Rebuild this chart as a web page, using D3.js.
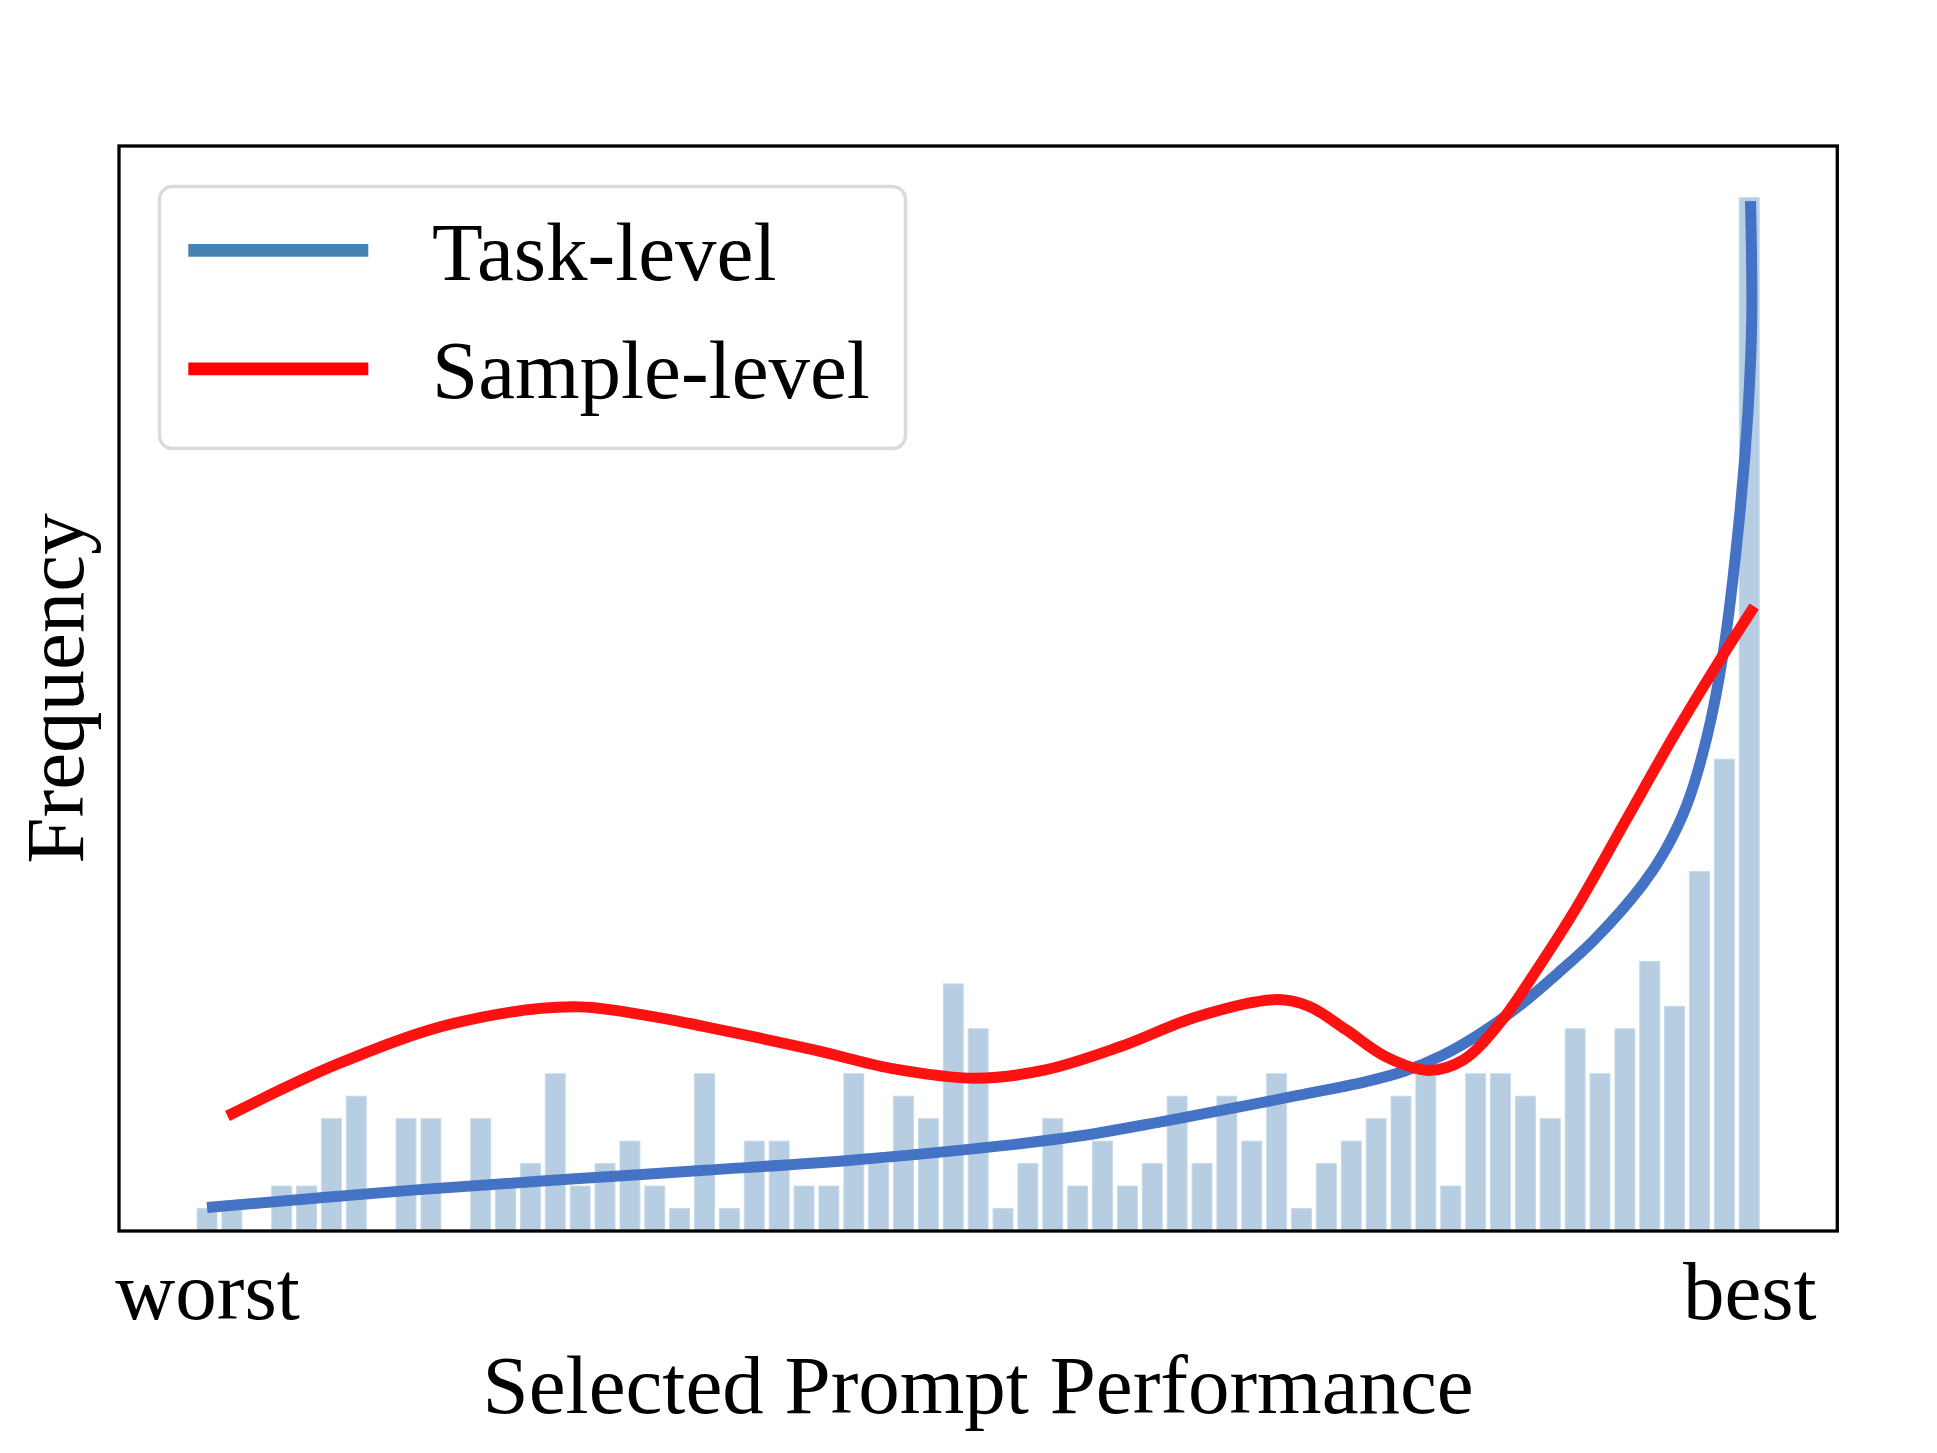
<!DOCTYPE html>
<html>
<head>
<meta charset="utf-8">
<script src="https://cdn.jsdelivr.net/npm/d3@7"></script>
<style>
  html, body { margin: 0; padding: 0; background: #ffffff; }
  svg { display: block; }
  text { font-family: "Liberation Serif", "Times New Roman", serif; fill: #000; }
</style>
</head>
<body>
<div id="chart"></div>
<script>
// ---------------- data ----------------
// histogram bins (ordered from worst to best selected prompt)
const binIndex = d3.range(63);
const binCounts = [1,1,0,2,2,5,6,0,5,5,0,5,2,3,7,2,3,4,2,1,7,
                   1,4,4,2,2,7,3,6,5,11,9,1,3,5,2,4,2,3,6,3,6,4,7,1,
                   3,4,5,6,7,2,7,7,6,5,9,7,9,12,10,16,21,46];

// Task-level density curve (x in bin units, y in count units)
const taskX = [0, 8.4, 14.5, 20, 26, 32, 35.2, 38.3, 41.4, 43.7, 46.6, 48.15, 49.7, 51.2, 52.8, 54.3, 55.8, 57.7, 58.6, 59.5, 60.3, 60.95, 61.6, 61.95, 62.1, 62.05];
const taskY = [1.05, 1.83, 2.3, 2.7, 3.16, 3.8, 4.25, 4.85, 5.5, 6.0, 6.65, 7.12, 7.84, 8.8, 10.06, 11.47, 13.0, 15.4, 16.9, 19.0, 22.0, 25.7, 31.7, 36.5, 40.6, 45.85];

// Sample-level density curve
const sampleX = [0.82, 5.33, 9.95, 14.7, 17.64, 20, 24.4, 27.5, 30.9, 33.7, 36.7, 39.8, 43.0, 44.3, 45.8, 47.4, 49.1, 50.5, 52.0, 53.5, 55.0, 57.0, 59.0, 60.7, 62.2];
const sampleY = [5.12, 7.47, 9.25, 9.98, 9.6, 9.1, 8.06, 7.24, 6.8, 7.17, 8.2, 9.54, 10.3, 10.0, 8.95, 7.75, 7.15, 7.61, 9.3, 11.7, 14.3, 18.2, 22.1, 25.2, 27.8];

const seriesNames = ["Task-level", "Sample-level"];
const xTickValues = [0, 62];
const xTickLabels = ["worst", "best"];
const xAxisTitle = "Selected Prompt Performance";
const yAxisTitle = "Frequency";

// ---------------- layout ----------------
const W = 1937, H = 1453;
const L = 119, R = 1837.3, T = 146, B = 1231;
const FS = 83;

const svg = d3.select("#chart").append("svg")
  .attr("width", W).attr("height", H)
  .style("background", "#fff");

const x = d3.scaleLinear().domain([-3.54, 65.54]).range([L, R]);
const y = d3.scaleLinear().domain([0, 48.3]).range([B, T]);

svg.append("defs").append("clipPath").attr("id", "clip")
  .append("rect").attr("x", L).attr("y", T).attr("width", R - L).attr("height", B - T);

// bars
const bw = 0.8;
svg.append("g").selectAll("rect")
  .data(binIndex.map((k, i) => ({ k, v: binCounts[i] })).filter(d => d.v > 0))
  .join("rect")
  .attr("x", d => x(d.k - bw / 2))
  .attr("y", d => y(d.v))
  .attr("width", d => x(d.k + bw / 2) - x(d.k - bw / 2))
  .attr("height", d => y(0) - y(d.v))
  .attr("fill", "#b6cde2")
  .attr("stroke", "#c6d9ea")
  .attr("stroke-width", 1);

// lines
const line = d3.line()
  .x(d => x(d[0]))
  .y(d => y(d[1]))
  .curve(d3.curveCatmullRom.alpha(0.5));

const gLines = svg.append("g").attr("clip-path", "url(#clip)");
gLines.append("path")
  .datum(taskX.map((v, i) => [v, taskY[i]]))
  .attr("d", line)
  .attr("fill", "none")
  .attr("stroke", "#4472c4")
  .attr("stroke-width", 11)
  .attr("stroke-linecap", "butt")
  .attr("stroke-linejoin", "round");

gLines.append("path")
  .datum(sampleX.map((v, i) => [v, sampleY[i]]))
  .attr("d", line)
  .attr("fill", "none")
  .attr("stroke", "#fe1111")
  .attr("stroke-width", 11)
  .attr("stroke-linecap", "butt")
  .attr("stroke-linejoin", "round");

// frame
svg.append("rect")
  .attr("x", L).attr("y", T).attr("width", R - L).attr("height", B - T)
  .attr("fill", "none").attr("stroke", "#000").attr("stroke-width", 3.3);

// x axis tick labels
const xAxis = d3.axisBottom(x)
  .tickValues(xTickValues)
  .tickFormat((d, i) => xTickLabels[i])
  .tickSize(0);
const gx = svg.append("g").attr("transform", `translate(0,${B})`).call(xAxis);
gx.select(".domain").remove();
gx.selectAll("text")
  .attr("y", 87.5).attr("dy", 0)
  .style("font-family", '"Liberation Serif", serif')
  .style("font-size", FS + "px")
  .attr("fill", "#000");

// axis titles
svg.append("text")
  .attr("x", (L + R) / 2).attr("y", 1413.3)
  .attr("text-anchor", "middle")
  .style("font-size", FS + "px")
  .text(xAxisTitle);

svg.append("text")
  .attr("transform", `translate(83.3,${(T + B) / 2}) rotate(-90)`)
  .attr("text-anchor", "middle")
  .style("font-size", FS + "px")
  .text(yAxisTitle);

// legend
const lg = svg.append("g");
lg.append("rect")
  .attr("x", 159.5).attr("y", 186.5).attr("width", 746).attr("height", 262)
  .attr("rx", 13).attr("ry", 13)
  .attr("fill", "#fff").attr("fill-opacity", 0.8)
  .attr("stroke", "#dadada").attr("stroke-width", 3.5);
const legendColors = ["#4682b4", "#ff0000"];
const legendY = [250.3, 368.8];
const legendTextY = [280, 398];
seriesNames.forEach((name, i) => {
  lg.append("line")
    .attr("x1", 188.3).attr("x2", 368.3)
    .attr("y1", legendY[i]).attr("y2", legendY[i])
    .attr("stroke", legendColors[i]).attr("stroke-width", 12.7);
  lg.append("text")
    .attr("x", 432).attr("y", legendTextY[i])
    .style("font-size", FS + "px")
    .text(name);
});
</script>
</body>
</html>
